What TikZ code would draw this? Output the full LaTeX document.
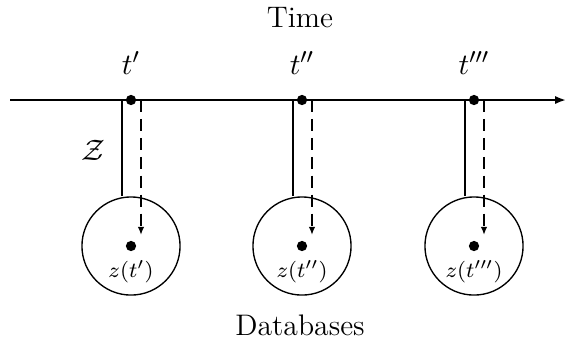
\documentclass[tikz,border=0pt]{standalone}
\usetikzlibrary{calc,arrows.meta}
\tikzset{
  pt/.style={circle,fill,inner sep=0pt,minimum size=3.8pt},
  db/.style={circle,draw,line width=0.5pt,minimum size=36.3pt,inner sep=0pt},
  feed/.style={line width=0.75pt},
  query/.style={line width=0.75pt,dash pattern=on 4.5pt off 2.5pt,-{Latex[length=3pt,width=2.4pt]}},
}
\begin{document}
\begin{tikzpicture}[x={(0.37pt,0)},y={(0,-0.37pt)},font=\fontsize{11}{13}\selectfont]
\useasboundingbox (0,0) rectangle (568,348);
% time axis
\coordinate (start) at (10,100);
\coordinate (end) at (566,100);
\draw[line width=0.75pt,-{Latex[length=4pt,width=3pt]}] (start) -- (end);
\node[anchor=base] (time) at (300,27) {Time};
\node[anchor=base] (dbs) at (300,335) {Databases};
% time points and their databases
\foreach \n/\x/\p/\fw/\qw in {1/131/{'}/1.1pt/0.75pt, 2/302/{''}/0.75pt/0.75pt, 3/474/{'''}/0.75pt/1.1pt}
{
  \node[pt] (t\n) at (\x,100) {};
  \node[anchor=base] (l\n) at (\x,74) {$t\p$};
  \node[db] (db\n) at (\x,246) {};
  \node[pt] (z\n) at (db\n.center) {};
  \node[anchor=base,font=\fontsize{8.5}{10}\selectfont] (zl\n) at (\x,277) {$z(t\p)$};
  \draw[feed,line width=\fw] ($(t\n)+(-9,0)$) -- ($(db\n.north)+(-9,0)$);
  \draw[query,line width=\qw] ($(t\n)+(10,0)$) -- ($(db\n.center)+(10,-11)$);
}
\node[anchor=base] (Z) at (93,160) {$\mathcal{Z}$};
\end{tikzpicture}
\end{document}
